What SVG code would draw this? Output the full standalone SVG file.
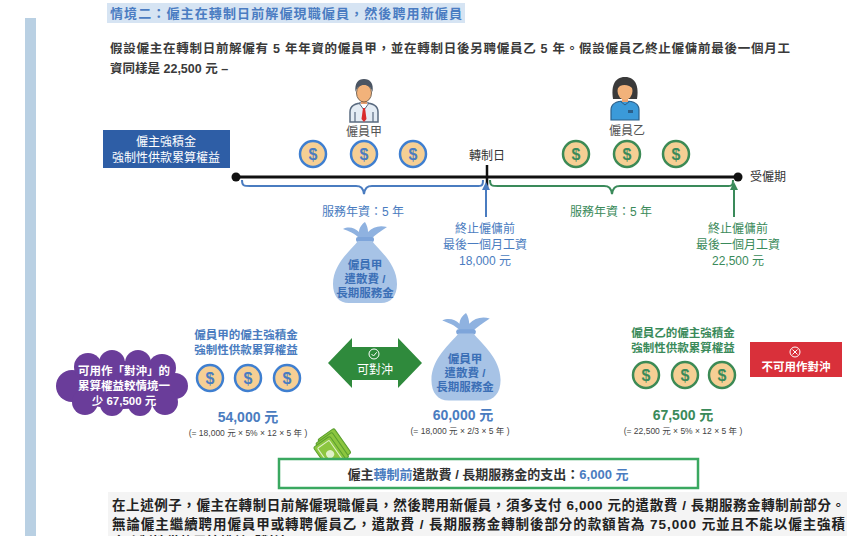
<svg xmlns="http://www.w3.org/2000/svg" width="847" height="536" viewBox="0 0 847 536">
  <style>
    text { font-family: "Liberation Sans", "Noto Sans CJK TC", sans-serif; }
    .para { font-size: 12.5px; font-weight: bold; fill: #3a3a3a; }
    .blue { fill: #4a7cc0; }
    .green { fill: #3a8a5a; }
    .lbl { font-size: 12px; text-anchor: middle; }
    .lblb { font-size: 11.5px; text-anchor: middle; font-weight: bold; }
    .amt { font-size: 14px; font-weight: bold; text-anchor: middle; }
    .formula { font-size: 8.5px; text-anchor: middle; fill: #444; }
    .coinB { fill: #f6cf94; stroke: #3f7fd0; stroke-width: 2.5; }
    .coinG { fill: #f6cf94; stroke: #3c8a55; stroke-width: 2.5; }
    .dollar { font-size: 16px; font-weight: bold; text-anchor: middle; }
    .white { fill: #ffffff; }
    .bagtxt { font-size: 11.5px; font-weight: bold; text-anchor: middle; fill: #3b6fb6; }
  </style>
  <defs>
    <marker id="arrB" markerWidth="8" markerHeight="8" refX="4" refY="4" orient="auto" markerUnits="userSpaceOnUse">
      <path d="M0,0 L8,4 L0,8 Z" fill="#4a7cc0"/>
    </marker>
    <marker id="arrG" markerWidth="8" markerHeight="8" refX="4" refY="4" orient="auto" markerUnits="userSpaceOnUse">
      <path d="M0,0 L8,4 L0,8 Z" fill="#3a8a5a"/>
    </marker>
    <!-- money bag, origin at top centre, 64 x 81 -->
    <g id="bag">
      <path d="M-5,17 C-10,11 -17,9 -22,7 C-16,4 -10,6 -6,10 C-6,6 -3,2 0,0 C2,3 3,7 3,10 C8,5 14,3 22,5 C16,9 10,13 6,17 Z" fill="#8fb2e0"/>
      <rect x="-9" y="15" width="18" height="5" rx="2" fill="#7ea5da"/>
      <path d="M-7,19 C-14,28 -32,42 -32,62 C-32,74 -26,81 -16,81 L16,81 C26,81 32,74 32,62 C32,42 14,28 7,19 Z" fill="#a7c3e6"/>
    </g>
  </defs>

  <!-- side accent bar -->
  <rect x="25" y="18" width="11" height="518" fill="#b9d0e3"/>

  <!-- heading -->
  <g id="heading">
    <rect x="107" y="3" width="358" height="20" fill="#d6e4f3"/>
    <text x="110" y="18" font-size="13" font-weight="bold" fill="#4a7cc2" textLength="352" lengthAdjust="spacing">情境二：僱主在轉制日前解僱現職僱員，然後聘用新僱員</text>
  </g>

  <!-- intro paragraph -->
  <g id="intro">
    <text class="para" x="110" y="53" textLength="680" lengthAdjust="spacing">假設僱主在轉制日前解僱有 5 年年資的僱員甲，並在轉制日後另聘僱員乙 5 年。假設僱員乙終止僱傭前最後一個月工</text>
    <text class="para" x="110" y="73">資同樣是 22,500 元 –</text>
  </g>

  <!-- MPF box -->
  <g id="mpf-box">
    <rect x="103" y="130" width="127" height="38" fill="#2e5ea6"/>
    <text class="lbl white" x="166" y="146" font-size="13">僱主強積金</text>
    <text class="lbl white" x="166" y="162" font-size="13">強制性供款累算權益</text>
  </g>

  <!-- employee A -->
  <g id="employee-a">
    <path d="M350,122 L350,112 C350,105 357,103 364,103 C371,103 378,105 378,112 L378,122 Z" fill="#e4ecf4" stroke="#5a6b80" stroke-width="1.5"/>
    <path d="M359,103 L364,110 L369,103 Z" fill="#ffffff" stroke="#5a6b80" stroke-width="1"/>
    <path d="M363,108 L365,108 L366.5,119 L364,122 L361.5,119 Z" fill="#d92b2b"/>
    <line x1="355" y1="112" x2="355" y2="122" stroke="#5a6b80" stroke-width="1.2"/>
    <line x1="373" y1="112" x2="373" y2="122" stroke="#5a6b80" stroke-width="1.2"/>
    <rect x="361" y="98" width="6" height="6" fill="#e8a070"/>
    <ellipse cx="364" cy="93" rx="7.5" ry="9" fill="#f2b27a" stroke="#5a4a3a" stroke-width="0.8"/>
    <path d="M355.5,92 C354.5,83 358,79 364,79 C370,79 374,83 372.5,92 C371,87 368,85 364,85 C360,85 357,87 355.5,92 Z" fill="#4b5563"/>
    <text class="lbl" x="364" y="136" fill="#555">僱員甲</text>
    <circle class="coinB" cx="313" cy="154" r="13"/>
    <text class="dollar blue" x="313" y="159.5">$</text>
    <circle class="coinB" cx="364" cy="154" r="13"/>
    <text class="dollar blue" x="364" y="159.5">$</text>
    <circle class="coinB" cx="413" cy="154" r="13"/>
    <text class="dollar blue" x="413" y="159.5">$</text>
  </g>

  <!-- employee B -->
  <g id="employee-b">
    <path d="M611,120 L611,110 C611,103 618,101 625,101 C632,101 639,103 639,110 L639,120 Z" fill="#3b9ad9" stroke="#2a5f8a" stroke-width="1.2"/>
    <path d="M620,101 L625,105 L630,101" fill="none" stroke="#2a5f8a" stroke-width="1"/>
    <rect x="628" y="110" width="5" height="3" fill="#2a5f8a"/>
    <path d="M613,99 C611,87 614,77 625,77 C636,77 639,87 637,99 Z" fill="#3a3a3a"/>
    <rect x="622" y="96" width="6" height="6" fill="#e8a070"/>
    <ellipse cx="625" cy="91" rx="7.5" ry="9" fill="#f2b27a"/>
    <path d="M617,89 C617,82 621,80 625,80 C630,80 633,83 633,89 C630,85 624,84 620,86 Z" fill="#3a3a3a"/>
    <text class="lbl" x="627" y="135" fill="#555">僱員乙</text>
    <circle class="coinG" cx="576" cy="154" r="13"/>
    <text class="dollar green" x="576" y="159.5">$</text>
    <circle class="coinG" cx="627" cy="154" r="13"/>
    <text class="dollar green" x="627" y="159.5">$</text>
    <circle class="coinG" cx="676" cy="154" r="13"/>
    <text class="dollar green" x="676" y="159.5">$</text>
  </g>

  <!-- timeline -->
  <g id="timeline">
    <line x1="236" y1="177" x2="738" y2="177" stroke="#111" stroke-width="3"/>
    <circle cx="236" cy="177" r="4.5" fill="#111"/>
    <circle cx="738" cy="177" r="4.5" fill="#111"/>
    <line x1="487" y1="165" x2="487" y2="188" stroke="#111" stroke-width="2.5"/>
    <text class="lbl" x="487" y="160" fill="#333">轉制日</text>
    <text x="750" y="181" font-size="12" fill="#333">受僱期</text>
  </g>

  <!-- connectors -->
  <g id="connectors">
    <path d="M242,180 C242,186 244,186 250,186 L356,186 C361,186 363,188 364,194 C365,188 367,186 372,186 L476,186 C482,186 483,186 483,180" fill="none" stroke="#4a7cc0" stroke-width="2"/>
    <path d="M490,180 C490,186 492,186 498,186 L604,186 C609,186 611,188 612,194 C613,188 615,186 620,186 L726,186 C732,186 733,186 733,180" fill="none" stroke="#3a8a5a" stroke-width="2"/>
    <line x1="486" y1="217" x2="486" y2="186" stroke="#4a7cc0" stroke-width="2" marker-end="url(#arrB)"/>
    <line x1="734" y1="217" x2="734" y2="186" stroke="#3a8a5a" stroke-width="2" marker-end="url(#arrG)"/>
  </g>

  <!-- service period labels -->
  <g id="service-a">
    <text class="lbl blue" x="363" y="216">服務年資：5 年</text>
  </g>
  <g id="service-b">
    <text class="lbl green" x="611" y="216">服務年資：5 年</text>
  </g>

  <!-- last month wages -->
  <g id="wage-a">
    <text class="lbl blue" x="485" y="233">終止僱傭前</text>
    <text class="lbl blue" x="485" y="249">最後一個月工資</text>
    <text class="lbl blue" x="485" y="265">18,000 元</text>
  </g>
  <g id="wage-b">
    <text class="lbl green" x="738" y="233">終止僱傭前</text>
    <text class="lbl green" x="738" y="249">最後一個月工資</text>
    <text class="lbl green" x="738" y="265">22,500 元</text>
  </g>

  <!-- severance bag A -->
  <g id="bag-a">
    <use href="#bag" transform="translate(365,222)"/>
    <text class="bagtxt" x="365" y="269">僱員甲</text>
    <text class="bagtxt" x="365" y="283">遣散費 /</text>
    <text class="bagtxt" x="365" y="297">長期服務金</text>
  </g>

  <!-- MPF A accrued -->
  <g id="mpf-a">
    <text class="lblb blue" x="246" y="339">僱員甲的僱主強積金</text>
    <text class="lblb blue" x="246" y="354">強制性供款累算權益</text>
    <circle class="coinB" cx="210" cy="378" r="13"/>
    <text class="dollar blue" x="210" y="383.5">$</text>
    <circle class="coinB" cx="248" cy="378" r="13"/>
    <text class="dollar blue" x="248" y="383.5">$</text>
    <circle class="coinB" cx="287" cy="378" r="13"/>
    <text class="dollar blue" x="287" y="383.5">$</text>
    <text class="amt blue" x="248" y="422">54,000 元</text>
    <text class="formula" x="248" y="436">(= 18,000 元 × 5% × 12 × 5 年 )</text>
  </g>

  <!-- cloud note -->
  <g id="cloud-note">
    <g fill="#6a3d9a">
      <ellipse cx="123" cy="385" rx="58" ry="24"/>
      <circle cx="72" cy="386" r="16"/>
      <circle cx="88" cy="367" r="14"/>
      <circle cx="112" cy="363" r="13"/>
      <circle cx="138" cy="363" r="13"/>
      <circle cx="162" cy="368" r="14"/>
      <circle cx="175" cy="386" r="13"/>
      <circle cx="165" cy="402" r="13"/>
      <circle cx="140" cy="404" r="12"/>
      <circle cx="112" cy="404" r="12"/>
      <circle cx="85" cy="402" r="13"/>
    </g>
    <text class="lblb white" x="124" y="375" font-size="11.5">可用作「對沖」的</text>
    <text class="lblb white" x="124" y="390" font-size="11.5">累算權益較情境一</text>
    <text class="lblb white" x="124" y="405" font-size="11.5">少 67,500 元</text>
  </g>

  <!-- offset arrow -->
  <g id="offset-ok">
    <polygon points="328,363 352,338 352,347 398,347 398,338 422,363 398,388 398,380 352,380 352,388" fill="#2f8a3c"/>
    <circle cx="374" cy="354" r="5" fill="none" stroke="#fff" stroke-width="1"/>
    <path d="M371.5,354 L373.5,356 L376.7,352.3" fill="none" stroke="#fff" stroke-width="1"/>
    <text class="lbl white" x="375" y="374">可對沖</text>
  </g>

  <!-- severance bag A (amount) -->
  <g id="bag-a-amount">
    <use href="#bag" transform="translate(466,313) scale(1.08)"/>
    <text class="bagtxt" x="465" y="363">僱員甲</text>
    <text class="bagtxt" x="465" y="377">遣散費 /</text>
    <text class="bagtxt" x="465" y="391">長期服務金</text>
    <text class="amt blue" x="463" y="420">60,000 元</text>
    <text class="formula" x="460" y="434">(= 18,000 元 × 2/3 × 5 年 )</text>
  </g>

  <!-- MPF B accrued -->
  <g id="mpf-b">
    <text class="lblb green" x="683" y="337">僱員乙的僱主強積金</text>
    <text class="lblb green" x="683" y="352">強制性供款累算權益</text>
    <circle class="coinG" cx="646" cy="375" r="13"/>
    <text class="dollar green" x="646" y="380.5">$</text>
    <circle class="coinG" cx="685" cy="375" r="13"/>
    <text class="dollar green" x="685" y="380.5">$</text>
    <circle class="coinG" cx="722" cy="375" r="13"/>
    <text class="dollar green" x="722" y="380.5">$</text>
    <text class="amt green" x="683" y="420">67,500 元</text>
    <text class="formula" x="683" y="434">(= 22,500 元 × 5% × 12 × 5 年 )</text>
  </g>

  <!-- not offsettable -->
  <g id="offset-no">
    <rect x="750" y="342" width="92" height="35" fill="#d9303a"/>
    <circle cx="795" cy="352" r="5" fill="none" stroke="#fff" stroke-width="1"/>
    <path d="M792.5,349.5 L797.5,354.5 M797.5,349.5 L792.5,354.5" stroke="#fff" stroke-width="1"/>
    <text class="lblb white" x="796" y="371">不可用作對沖</text>
  </g>

  <!-- cash icon -->
  <g id="cash">
    <g transform="translate(333,446) rotate(-35)">
      <rect x="-9" y="-14" width="20" height="30" rx="2" fill="#8cc63f" stroke="#5a9e2f" stroke-width="1"/>
      <rect x="-13" y="-12" width="20" height="30" rx="2" fill="#8cc63f" stroke="#5a9e2f" stroke-width="1"/>
      <rect x="-17" y="-10" width="20" height="30" rx="2" fill="#8cc63f" stroke="#5a9e2f" stroke-width="1"/>
      <rect x="-14" y="-7" width="14" height="24" rx="1" fill="none" stroke="#dff0c8" stroke-width="1"/>
      <circle cx="-7" cy="5" r="4" fill="#dff0c8"/>
    </g>
  </g>

  <!-- summary box -->
  <g id="summary">
    <rect x="279" y="459" width="419" height="29" fill="#ffffff" stroke="#3aa860" stroke-width="2.5"/>
    <text x="488" y="479" font-size="13" font-weight="bold" text-anchor="middle" fill="#333">僱主<tspan fill="#4a7cc0">轉制前</tspan>遣散費 / 長期服務金的支出：<tspan fill="#4a7cc0">6,000 元</tspan></text>
  </g>

  <!-- closing paragraph -->
  <g id="closing">
    <rect x="108" y="492" width="739" height="44" fill="#f4f4f4"/>
    <text x="112" y="510" font-size="13.5" font-weight="bold" fill="#222" textLength="733" lengthAdjust="spacing">在上述例子，僱主在轉制日前解僱現職僱員，然後聘用新僱員，須多支付 6,000 元的遣散費 / 長期服務金轉制前部分。</text>
    <text x="112" y="529" font-size="13.5" font-weight="bold" fill="#222" textLength="733" lengthAdjust="spacing">無論僱主繼續聘用僱員甲或轉聘僱員乙，遣散費 / 長期服務金轉制後部分的款額皆為 75,000 元並且不能以僱主強積</text>
    <text x="112" y="547" font-size="13.5" font-weight="bold" fill="#222">金強制性供款累算權益「對沖」。</text>
  </g>
</svg>
